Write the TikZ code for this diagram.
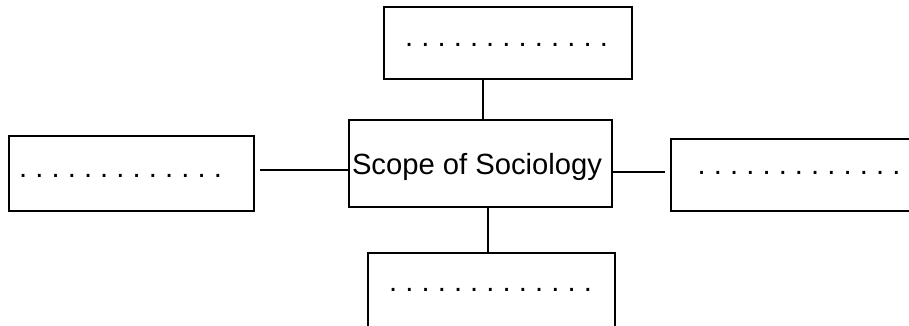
\documentclass[tikz,border=0pt]{standalone}
\usepackage{fontspec}
\setmainfont{Liberation Sans}
\frenchspacing
\begin{document}
\begin{tikzpicture}[x=1pt,y=-1pt,
  box/.style={draw=black, line width=2.2pt, rectangle, inner sep=0pt},
  lbl/.style={inner sep=0pt, anchor=base, font=\fontsize{29.2}{32}\selectfont},
  link/.style={draw=black, line width=2.2pt}]
  \useasboundingbox (0,0) rectangle (909,326);
  \clip (0,0) rectangle (909,326);

  % boxes
  \node[box, minimum width=263pt, minimum height=87pt] (centre) at (480.5,163.5) {};
  \node[box, minimum width=248pt, minimum height=72pt] (upper) at (508,43) {};
  \node[box, minimum width=245pt, minimum height=75pt] (west) at (131.5,173.5) {};
  \node[box, minimum width=245pt, minimum height=72pt] (east) at (793.5,175) {};
  \node[box, minimum width=247pt, minimum height=80pt] (lower) at (491.5,293) {};

  % texts
  \node[lbl] (centretext) at (477,174) {Scope of Sociology};
  \node[lbl] (uppertext) at (506.5,46.5) {. . . . . . . . . . . . .};
  \node[lbl] (westtext) at (120.5,177.5) {. . . . . . . . . . . . .};
  \node[lbl] (easttext) at (799,174.5) {. . . . . . . . . . . . .};
  \node[lbl] (lowertext) at (490.5,291.5) {. . . . . . . . . . . . .};

  % connectors
  \coordinate (ux) at (483,0);
  \coordinate (lx) at (488,0);
  \coordinate (wy) at (0,170);
  \coordinate (ey) at (0,172);
  \draw[link] (upper.south -| ux) -- (centre.north -| ux);
  \draw[link] (centre.south -| lx) -- (lower.north -| lx);
  \draw[link, shorten <=5pt] (west.east |- wy) -- (centre.west |- wy);
  \draw[link, shorten >=5pt] (centre.east |- ey) -- (east.west |- ey);
\end{tikzpicture}
\end{document}
